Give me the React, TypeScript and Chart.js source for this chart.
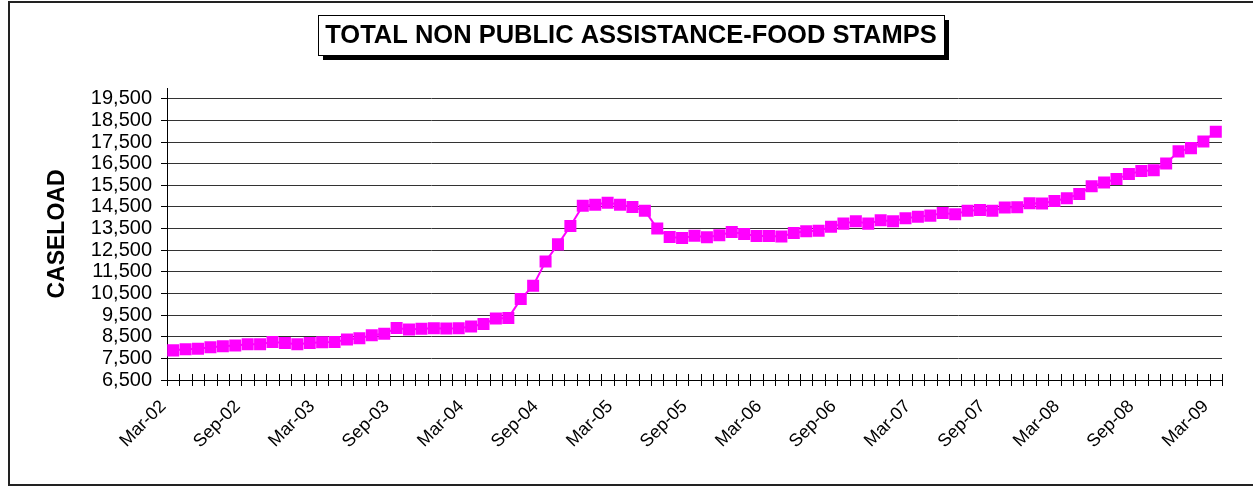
import React, { useEffect, useRef } from 'react';
import { Chart, registerables } from 'chart.js';

Chart.register(...registerables);

const categories = [
  'Mar-02', 'Apr-02', 'May-02', 'Jun-02', 'Jul-02', 'Aug-02', 'Sep-02', 'Oct-02', 'Nov-02', 'Dec-02', 'Jan-03', 'Feb-03',
  'Mar-03', 'Apr-03', 'May-03', 'Jun-03', 'Jul-03', 'Aug-03', 'Sep-03', 'Oct-03', 'Nov-03', 'Dec-03', 'Jan-04', 'Feb-04',
  'Mar-04', 'Apr-04', 'May-04', 'Jun-04', 'Jul-04', 'Aug-04', 'Sep-04', 'Oct-04', 'Nov-04', 'Dec-04', 'Jan-05', 'Feb-05',
  'Mar-05', 'Apr-05', 'May-05', 'Jun-05', 'Jul-05', 'Aug-05', 'Sep-05', 'Oct-05', 'Nov-05', 'Dec-05', 'Jan-06', 'Feb-06',
  'Mar-06', 'Apr-06', 'May-06', 'Jun-06', 'Jul-06', 'Aug-06', 'Sep-06', 'Oct-06', 'Nov-06', 'Dec-06', 'Jan-07', 'Feb-07',
  'Mar-07', 'Apr-07', 'May-07', 'Jun-07', 'Jul-07', 'Aug-07', 'Sep-07', 'Oct-07', 'Nov-07', 'Dec-07', 'Jan-08', 'Feb-08',
  'Mar-08', 'Apr-08', 'May-08', 'Jun-08', 'Jul-08', 'Aug-08', 'Sep-08', 'Oct-08', 'Nov-08', 'Dec-08', 'Jan-09', 'Feb-09',
  'Mar-09',
];

const caseload = [
  7870, 7920, 7950, 8010, 8060, 8100, 8150, 8150, 8260, 8210, 8150, 8210,
  8240, 8260, 8370, 8430, 8570, 8640, 8900, 8830, 8870, 8890, 8880, 8890,
  8970, 9090, 9340, 9370, 10240, 10860, 11980, 12770, 13620, 14560, 14600, 14700,
  14600, 14500, 14330, 13500, 13110, 13060, 13170, 13100, 13190, 13340, 13250, 13160,
  13160, 13130, 13300, 13380, 13400, 13580, 13730, 13840, 13730, 13890, 13840, 13980,
  14050, 14100, 14220, 14160, 14330, 14360, 14320, 14470, 14490, 14670, 14660, 14780,
  14900, 15100, 15460, 15630, 15790, 16020, 16160, 16200, 16510, 17070, 17220, 17530,
  17980,
];

const yTicks = [6500, 7500, 8500, 9500, 10500, 11500, 12500, 13500, 14500, 15500, 16500, 17500, 18500, 19500];
const yMin = 6500;
const yMax = 20000;
const labelEvery = 6;

const titleText = 'TOTAL NON PUBLIC ASSISTANCE-FOOD STAMPS';
const yAxisTitle = 'CASELOAD';

const FONT = '"Liberation Sans", Arial, Helvetica, sans-serif';

const framePlugin = {
  id: 'frame',
  beforeDraw(chart: any) {
    const ctx = chart.ctx;
    ctx.save();
    ctx.fillStyle = '#fff';
    ctx.fillRect(0, 0, chart.width, chart.height);
    ctx.restore();
  },
  afterDraw(chart: any) {
    const ctx = chart.ctx;
    ctx.save();
    // outer frame
    ctx.strokeStyle = '#222';
    ctx.lineWidth = 2;
    ctx.strokeRect(9, 2, 1270, 483);

    // title box with shadow
    const bx = 318, by = 15, bw = 626, bh = 40;
    ctx.fillStyle = '#000';
    ctx.fillRect(bx + 5, by + 5, bw, bh);
    ctx.fillStyle = '#fff';
    ctx.fillRect(bx, by, bw, bh);
    ctx.strokeStyle = '#000';
    ctx.lineWidth = 1;
    ctx.strokeRect(bx + 0.5, by + 0.5, bw, bh);
    ctx.fillStyle = '#000';
    ctx.font = `bold 25.5px ${FONT}`;
    ctx.textAlign = 'center';
    ctx.textBaseline = 'middle';
    ctx.fillText(titleText, bx + bw / 2, by + bh / 2 + 1);

    // x-axis tick marks crossing the axis at category boundaries
    const xs = chart.scales.x;
    const bottom = chart.chartArea.bottom;
    const p0 = xs.getPixelForValue(0);
    const p1 = xs.getPixelForValue(1);
    const step = p1 - p0;
    ctx.strokeStyle = '#000';
    ctx.lineWidth = 1;
    ctx.beginPath();
    for (let k = 0; k <= categories.length; k++) {
      const x = Math.round(p0 - step / 2 + k * step) + 0.5;
      ctx.moveTo(x, bottom - 6);
      ctx.lineTo(x, bottom + 6);
    }
    ctx.stroke();
    ctx.restore();
  },
};

export default function App() {
  const canvasRef = useRef<HTMLCanvasElement | null>(null);

  useEffect(() => {
    const canvas = canvasRef.current;
    if (!canvas) return;
    const chart = new Chart(canvas, {
      type: 'line',
      data: {
        labels: categories,
        datasets: [
          {
            label: 'Caseload',
            data: caseload,
            borderColor: '#FF00FF',
            backgroundColor: '#FF00FF',
            borderWidth: 2,
            pointStyle: 'rect',
            pointRadius: 8.5,
            pointBorderWidth: 0,
            pointBackgroundColor: '#FF00FF',
            tension: 0,
          },
        ],
      },
      options: {
        responsive: false,
        animation: false,
        events: [],
        layout: { padding: { top: 88, right: 31, left: 0, bottom: 0 } },
        plugins: {
          legend: { display: false },
          title: { display: false },
          tooltip: { enabled: false },
        },
        scales: {
          x: {
            type: 'category',
            offset: true,
            grid: { display: false, drawOnChartArea: false, drawTicks: true, tickLength: 6, offset: true },
            border: { display: true, color: '#000', width: 1 },
            ticks: {
              autoSkip: false,
              maxRotation: 45,
              minRotation: 45,
              padding: 10,
              labelOffset: -10,
              color: '#000',
              font: { family: FONT, size: 18 },
              callback: (_v: any, i: number) => (i % labelEvery === 0 ? categories[i] : ''),
            },
            afterFit: (scale: any) => {
              scale.height = 108;
            },
          },
          y: {
            type: 'linear',
            min: yMin,
            max: yMax,
            afterBuildTicks: (scale: any) => {
              scale.ticks = yTicks.map((v) => ({ value: v }));
            },
            afterFit: (scale: any) => {
              scale.width = 167;
            },
            grid: { color: '#333', lineWidth: 1, tickLength: 6, tickColor: '#000', drawTicks: true },
            border: { display: true, color: '#000', width: 1 },
            ticks: {
              autoSkip: false,
              padding: 9,
              color: '#000',
              font: { family: FONT, size: 20 },
              callback: (v: any) => Number(v).toLocaleString('en-US'),
            },
            title: {
              display: true,
              text: yAxisTitle,
              color: '#000',
              font: { family: FONT, size: 23, weight: 'bold' },
              padding: { top: 44, bottom: 0 },
            },
          },
        },
      },
      plugins: [framePlugin],
    } as any);
    return () => chart.destroy();
  }, []);

  return (
    <div style={{ position: 'absolute', left: 0, top: 0, width: 1253, height: 488, background: '#fff' }}>
      <canvas ref={canvasRef} width={1253} height={488} style={{ display: 'block', width: 1253, height: 488 }} />
    </div>
  );
}
